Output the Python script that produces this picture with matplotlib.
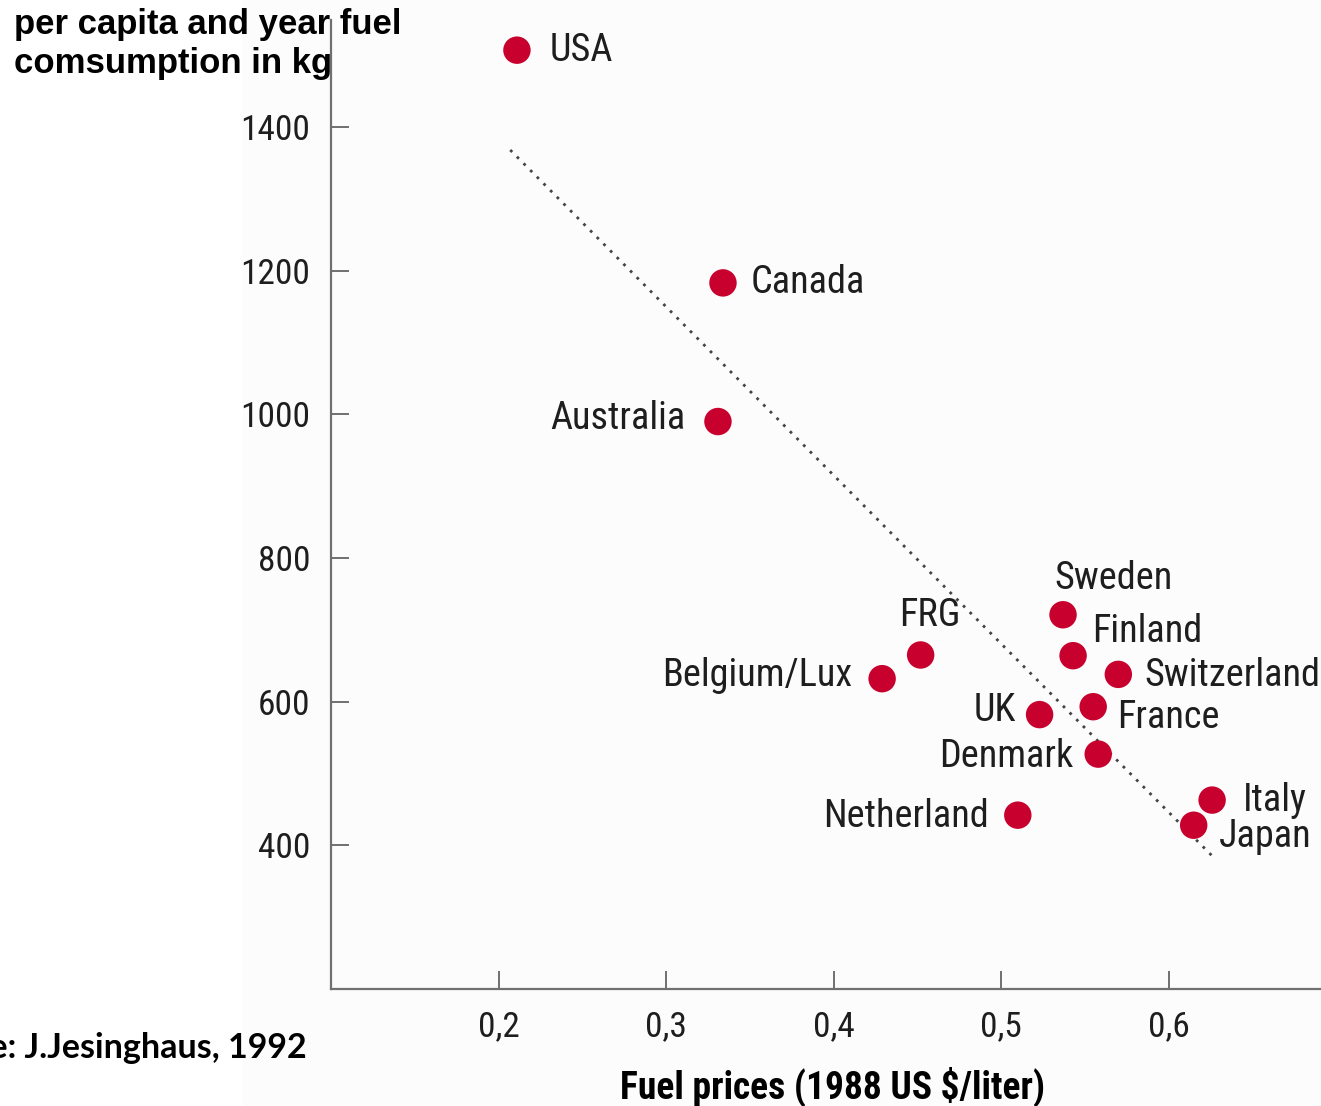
import matplotlib.pyplot as plt
from matplotlib.patches import Rectangle

# fuel price (US $/liter, 1988) vs. per capita fuel consumption (kg/year)
countries = ['USA', 'Canada', 'Australia', 'FRG', 'Belgium/Lux', 'Sweden',
             'Finland', 'Switzerland', 'UK', 'France', 'Denmark',
             'Netherland', 'Italy', 'Japan']
prices = [0.211, 0.334, 0.331, 0.452, 0.429, 0.537,
          0.543, 0.570, 0.523, 0.555, 0.558,
          0.510, 0.626, 0.615]
consumption = [1507, 1183, 990, 665, 632, 721,
               664, 638, 582, 593, 527,
               442, 463, 428]

trend_x = [0.207, 0.627]
trend_y = [1368, 383]

x_ticks = [0.2, 0.3, 0.4, 0.5, 0.6]
x_tick_labels = ['0,2', '0,3', '0,4', '0,5', '0,6']
y_ticks = [400, 600, 800, 1000, 1200, 1400]

# where each name sits relative to its dot (pixels) and its alignment
label_place = {
    'USA': (33, 0, 'left'),
    'Canada': (28, 0, 'left'),
    'Australia': (-32, 3, 'right'),
    'FRG': (9, 39, 'center'),
    'Belgium/Lux': (-30, 3, 'right'),
    'Sweden': (-9, 36, 'left'),
    'Finland': (19, 24, 'left'),
    'Switzerland': (26, -1, 'left'),
    'UK': (-24, 4, 'right'),
    'France': (24, -11, 'left'),
    'Denmark': (-25, -2, 'right'),
    'Netherland': (-29, -1, 'right'),
    'Italy': (31, 0, 'left'),
    'Japan': (25, -11, 'left'),
}

narrow = ['Roboto Condensed', 'DejaVu Sans']
W, H = 1321, 1106
fig = plt.figure(figsize=(W / 100, H / 100), dpi=100)
fig.patches.append(Rectangle((243 / W, 0), 1 - 243 / W, 1, transform=fig.transFigure,
                             color='#fcfcfc', zorder=-1))

ax = fig.add_axes([331 / W, (H - 989) / H, 990 / W, (989 - 20) / H])
ax.patch.set_alpha(0)
ax.set_xlim(0.1, 0.691)
ax.set_ylim(200, 1549)

ax.plot(trend_x, trend_y, color='#444444', linewidth=2.0, linestyle=(0, (1, 2.4)), zorder=2)
ax.scatter(prices, consumption, s=390, color='#c8002d', edgecolors='none', zorder=3)

for name, px, py in zip(countries, prices, consumption):
    dx, dy, ha = label_place[name]
    ax.annotate(name, (px, py), xytext=(dx, dy), textcoords='offset pixels',
                ha=ha, va='center', fontsize=27.5, color='#1e1e1e', family=narrow)

for side in ['top', 'right']:
    ax.spines[side].set_visible(False)
for side in ['left', 'bottom']:
    ax.spines[side].set_color('#707070')
    ax.spines[side].set_linewidth(1.6)

ax.set_xticks(x_ticks)
ax.set_xticklabels(x_tick_labels)
ax.set_yticks(y_ticks)
ax.tick_params(direction='in', length=13, width=1.4, color='#707070',
               labelsize=25.5, labelcolor='#1e1e1e', pad=15)
for lab in ax.get_xticklabels() + ax.get_yticklabels():
    lab.set_family(narrow)

fig.text(14 / W, 1 - 8 / H, 'per capita and year fuel\ncomsumption in kg',
         ha='left', va='top', fontsize=25, fontweight='bold',
         family=['Liberation Sans', 'DejaVu Sans'], linespacing=1.22)
fig.text(307 / W, 1 - 1048 / H, 'Source: J.Jesinghaus, 1992',
         ha='right', va='center', fontsize=24.5, fontweight='bold',
         family=['Lato', 'DejaVu Sans'])
fig.text(833 / W, 1 - 1087 / H, 'Fuel prices (1988 US $/liter)',
         ha='center', va='center', fontsize=27, fontweight='bold', family=narrow)

fig.savefig('out.png', dpi=100)
